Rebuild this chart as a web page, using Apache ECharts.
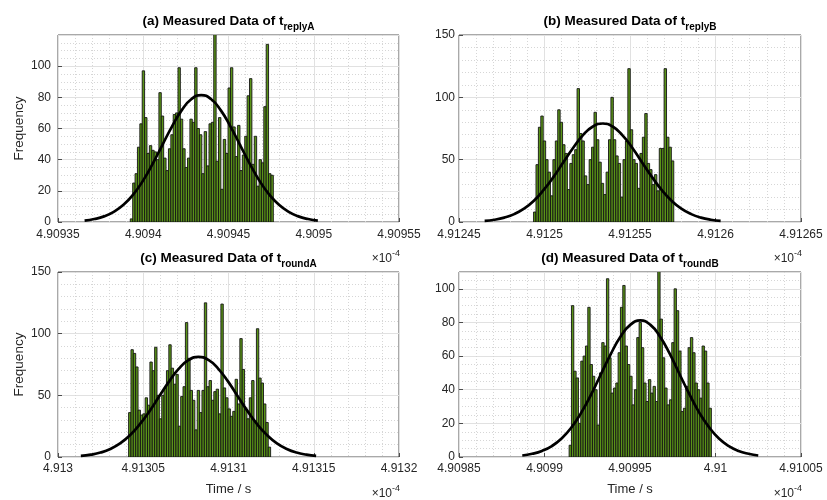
<!DOCTYPE html>
<html>
<head>
<meta charset="utf-8">
<title>Measured Data histograms</title>
<script src="https://cdn.jsdelivr.net/npm/echarts@6.0.0/dist/echarts.min.js"></script>
<style>
  html, body { margin: 0; padding: 0; background: #fff; }
  #chart { width: 827px; height: 500px; }
</style>
</head>
<body>
<div id="chart"></div>
<script>
// --- histogram counts (x in units of 1e-4 s) ---
const countsA = [2, 25, 31, 48, 63, 97, 67, 44, 49, 46, 45, 40, 83, 68, 41, 33, 47, 56, 69, 70,
  99, 66, 47, 35, 41, 66, 64, 99, 60, 56, 31, 58, 36, 63, 64, 125, 39, 67, 21, 53,
  44, 86, 99, 61, 42, 62, 33, 43, 55, 81, 92, 37, 55, 23, 40, 38, 74, 114, 31, 30];
const binStartA = 4.9093924, binEndA = 4.9094763;

const countsB = [8, 46, 76, 85, 65, 50, 40, 21, 50, 65, 90, 80, 62, 55, 26, 47, 54, 58, 107, 71,
  65, 37, 30, 50, 60, 88, 66, 48, 31, 22, 40, 66, 100, 66, 53, 47, 20, 50, 65, 123,
  74, 50, 47, 27, 55, 68, 87, 47, 42, 30, 38, 25, 59, 59, 123, 68, 60, 49];
const binStartB = 4.9124936, binEndB = 4.9125756;

const countsC = [36, 87, 84, 73, 38, 34, 35, 48, 42, 77, 70, 89, 50, 31, 50, 56, 70, 91, 72, 59,
  67, 25, 49, 57, 109, 80, 54, 46, 22, 54, 36, 54, 125, 57, 62, 46, 53, 55, 35, 124,
  56, 48, 39, 33, 37, 63, 43, 96, 71, 39, 31, 48, 62, 29, 104, 64, 60, 43, 28, 8];
const binStartC = 4.9130414, binEndC = 4.9131247;

const countsD = [7, 90, 51, 47, 20, 57, 60, 66, 89, 55, 48, 40, 19, 50, 68, 66, 106, 59, 38, 41,
  44, 62, 89, 102, 66, 55, 48, 31, 40, 71, 80, 65, 44, 33, 46, 38, 42, 33, 118, 82,
  59, 41, 31, 34, 68, 100, 87, 63, 27, 29, 42, 65, 71, 62, 44, 40, 35, 66, 63, 44, 29];
const binStartD = 4.9099144, binEndD = 4.9099976;

// --- fitted normal curves ---
const curveXA = [4.9093656, 4.9093713, 4.909377, 4.9093827, 4.9093884, 4.9093941, 4.9093998, 4.9094055,
  4.9094112, 4.9094169, 4.9094226, 4.9094283, 4.909434, 4.9094397, 4.9094454, 4.9094511, 4.9094568,
  4.9094625, 4.9094682, 4.9094739, 4.9094796, 4.9094853, 4.909491, 4.9094967, 4.9095024];
const curveYA = [0.9, 1.9, 3.6, 6.5, 11.0, 17.6, 26.4, 37.3, 49.4, 61.4, 71.8, 78.9, 81.4,
  78.9, 71.8, 61.4, 49.4, 37.3, 26.4, 17.6, 11.0, 6.5, 3.6, 1.9, 0.9];

const curveXB = [4.912465, 4.9124708, 4.9124765, 4.9124823, 4.912488, 4.9124938, 4.9124995, 4.9125053,
  4.912511, 4.9125168, 4.9125225, 4.9125283, 4.912534, 4.9125398, 4.9125455, 4.9125513, 4.912557,
  4.9125628, 4.9125685, 4.9125743, 4.91258, 4.9125858, 4.9125915, 4.9125973, 4.912603];
const curveYB = [0.9, 1.8, 3.5, 6.3, 10.7, 17.1, 25.7, 36.2, 47.9, 59.6, 69.7, 76.6, 79.0,
  76.6, 69.7, 59.6, 47.9, 36.2, 25.7, 17.1, 10.7, 6.3, 3.5, 1.8, 0.9];

const curveXC = [4.9130134, 4.9130192, 4.9130249, 4.9130307, 4.9130364, 4.9130422, 4.9130479, 4.9130537,
  4.9130594, 4.9130652, 4.9130709, 4.9130767, 4.9130824, 4.9130882, 4.9130939, 4.9130997, 4.9131054,
  4.9131112, 4.9131169, 4.9131227, 4.9131284, 4.9131342, 4.9131399, 4.9131457, 4.9131514];
const curveYC = [0.9, 1.9, 3.6, 6.5, 11.0, 17.6, 26.4, 37.2, 49.2, 61.3, 71.7, 78.7, 81.2,
  78.7, 71.7, 61.3, 49.2, 37.2, 26.4, 17.6, 11.0, 6.5, 3.6, 1.9, 0.9];

const curveXD = [4.909887, 4.9098928, 4.9098985, 4.9099043, 4.90991, 4.9099158, 4.9099215, 4.9099273,
  4.909933, 4.9099388, 4.9099445, 4.9099503, 4.909956, 4.9099618, 4.9099675, 4.9099733, 4.909979,
  4.9099848, 4.9099905, 4.9099963, 4.910002, 4.9100078, 4.9100135, 4.9100193, 4.910025];
const curveYD = [0.9, 1.9, 3.6, 6.5, 11.0, 17.6, 26.4, 37.2, 49.2, 61.3, 71.7, 78.7, 81.2,
  78.7, 71.7, 61.3, 49.2, 37.2, 26.4, 17.6, 11.0, 6.5, 3.6, 1.9, 0.9];

// --- tick labels ---
const xTicksA = [4.90935, 4.9094, 4.90945, 4.9095, 4.90955];
const xTicksB = [4.91245, 4.9125, 4.91255, 4.9126, 4.91265];
const xTicksC = [4.913, 4.91305, 4.9131, 4.91315, 4.9132];
const xTicksD = [4.90985, 4.9099, 4.90995, 4.91, 4.91005];
const yTicksA = [0, 20, 40, 60, 80, 100], yMaxA = 120;
const yTicksB = [0, 50, 100, 150], yMaxB = 150;
const yTicksC = [0, 50, 100, 150], yMaxC = 150;
const yTicksD = [0, 20, 40, 60, 80, 100], yMaxD = 110;

const titleSubs = ['replyA', 'replyB', 'roundA', 'roundB'];

// --- styles ---
const FONT = '"Liberation Sans", Arial, Helvetica, sans-serif';
const TEXT = '#262626';
const BAR_FILL = '#5a9418';
const BAR_EDGE = '#141414';

// one entry per subplot
const panels = [
  { letter: 'a', counts: countsA, b0: binStartA, b1: binEndA, cx: curveXA, cy: curveYA, xt: xTicksA, yt: yTicksA, yMax: yMaxA, yMinor: 4,
    left: 58, top: 35, width: 341, height: 187, yName: true, xName: false, ylm: 7 },
  { letter: 'b', counts: countsB, b0: binStartB, b1: binEndB, cx: curveXB, cy: curveYB, xt: xTicksB, yt: yTicksB, yMax: yMaxB, yMinor: 5,
    left: 459, top: 35, width: 342, height: 187, yName: false, xName: false, ylm: 4 },
  { letter: 'c', counts: countsC, b0: binStartC, b1: binEndC, cx: curveXC, cy: curveYC, xt: xTicksC, yt: yTicksC, yMax: yMaxC, yMinor: 5,
    left: 58, top: 272, width: 341, height: 185, yName: true, xName: true, ylm: 7 },
  { letter: 'd', counts: countsD, b0: binStartD, b1: binEndD, cx: curveXD, cy: curveYD, xt: xTicksD, yt: yTicksD, yMax: yMaxD, yMinor: 4,
    left: 459, top: 272, width: 342, height: 185, yName: false, xName: true, ylm: 4 }
];

const grids = [], xAxes = [], yAxes = [], series = [], graphics = [];

panels.forEach((p, i) => {
  grids.push({
    left: p.left, top: p.top, width: p.width, height: p.height,
    show: true, backgroundColor: '#fff', borderColor: TEXT, borderWidth: 0.8
  });

  xAxes.push({
    type: 'value', gridIndex: i,
    min: p.xt[0], max: p.xt[p.xt.length - 1], interval: +(p.xt[1] - p.xt[0]).toFixed(6),
    axisLine: { show: false },
    axisTick: { show: true, inside: true, length: 4, lineStyle: { color: TEXT, width: 0.8 } },
    axisLabel: {
      color: TEXT, fontSize: 12, fontFamily: FONT, margin: p.xName ? 6 : 7,
      formatter: v => String(parseFloat(v.toFixed(6)))
    },
    splitLine: { show: true, lineStyle: { color: '#e1e1e1', width: 1 } },
    minorTick: { show: false, splitNumber: 5 },
    minorSplitLine: { show: true, lineStyle: { color: '#d6d6d6', width: 1, type: [1, 2] } },
    name: p.xName ? 'Time / s' : '', nameLocation: 'middle', nameGap: 26,
    nameTextStyle: { color: TEXT, fontSize: 13, fontFamily: FONT }
  });

  yAxes.push({
    type: 'value', gridIndex: i,
    min: 0, max: p.yMax, interval: p.yt[1] - p.yt[0],
    axisLine: { show: false },
    axisTick: { show: true, inside: true, length: 4, lineStyle: { color: TEXT, width: 0.8 } },
    axisLabel: {
      color: TEXT, fontSize: 12, fontFamily: FONT, margin: p.ylm,
      showMaxLabel: p.yt[p.yt.length - 1] === p.yMax
    },
    splitLine: { show: true, lineStyle: { color: '#e1e1e1', width: 1 } },
    minorTick: { show: false, splitNumber: p.yMinor },
    minorSplitLine: { show: true, lineStyle: { color: '#d6d6d6', width: 1, type: [1, 2] } },
    name: p.yName ? 'Frequency' : '', nameLocation: 'middle', nameGap: 32,
    nameTextStyle: { color: TEXT, fontSize: 13.5, fontFamily: FONT }
  });

  // histogram bars: bins of equal width between the first and last edge
  const n = p.counts.length;
  const w = (p.b1 - p.b0) / n;
  series.push({
    type: 'custom', xAxisIndex: i, yAxisIndex: i, clip: true, silent: true, z: 2,
    encode: { x: [0, 1], y: 2 },
    data: p.counts.map((c, k) => [p.b0 + k * w, p.b0 + (k + 1) * w, c]),
    renderItem: (params, api) => {
      const topLeft = api.coord([api.value(0), api.value(2)]);
      const botRight = api.coord([api.value(1), 0]);
      return {
        type: 'rect',
        shape: { x: topLeft[0], y: topLeft[1], width: botRight[0] - topLeft[0], height: botRight[1] - topLeft[1] },
        style: { fill: BAR_FILL, stroke: BAR_EDGE, lineWidth: 0.9 }
      };
    }
  });

  // fitted normal curve
  series.push({
    type: 'line', xAxisIndex: i, yAxisIndex: i, silent: true, z: 3,
    data: p.cx.map((x, k) => [x, p.cy[k]]),
    smooth: true, showSymbol: false,
    lineStyle: { color: '#000', width: 2.7 }
  });

  // subplot title with subscript
  graphics.push({
    type: 'text', x: p.left + p.width / 2, y: p.top - 14,
    style: {
      text: '{m|(' + p.letter + ') Measured Data of t}{s|' + titleSubs[i] + '}',
      align: 'center', verticalAlign: 'middle',
      rich: {
        m: { fontSize: 13.5, fontWeight: 'bold', fontFamily: FONT, fill: '#000' },
        s: { fontSize: 10, fontWeight: 'bold', fontFamily: FONT, fill: '#000', padding: [13, 0, 0, 0] }
      }
    }
  });

  // x10^-4 exponent label under the right end of the x axis
  graphics.push({
    type: 'text', x: p.left + p.width + 1, y: p.top + p.height + 37,
    style: {
      text: '{a|\u00d710}{e|-4}',
      align: 'right', verticalAlign: 'middle',
      rich: {
        a: { fontSize: 12, fontFamily: FONT, fill: TEXT },
        e: { fontSize: 9, fontFamily: FONT, fill: TEXT, padding: [0, 0, 10, 0] }
      }
    }
  });
});

const chart = echarts.init(document.getElementById('chart'));
chart.setOption({
  animation: false,
  backgroundColor: '#fff',
  grid: grids,
  xAxis: xAxes,
  yAxis: yAxes,
  series: series,
  graphic: graphics
});
</script>
</body>
</html>
